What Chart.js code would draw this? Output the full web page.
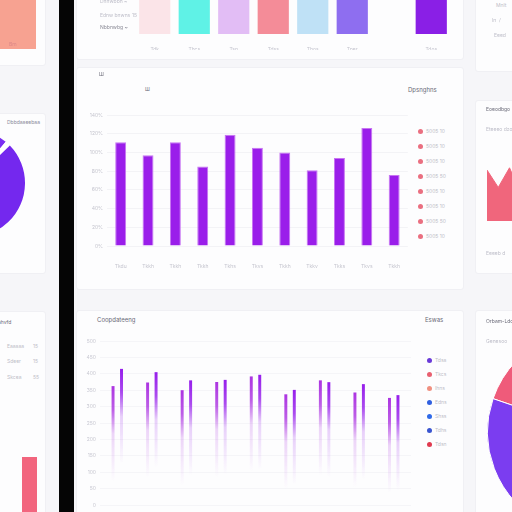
<!DOCTYPE html>
<html><head><meta charset="utf-8">
<script src="https://cdn.jsdelivr.net/npm/chart.js@4.4.1/dist/chart.umd.min.js"></script>
<style>
html,body{margin:0;padding:0;width:512px;height:512px;overflow:hidden;background:#f6f6f9;font-family:Inter,"Open Sans",sans-serif;}
#root{position:relative;width:512px;height:512px;overflow:hidden;}
.card{position:absolute;background:#fdfdfe;border:1px solid #f0f0f4;border-radius:3px;}
canvas{position:absolute;}
.t{position:absolute;white-space:nowrap;line-height:1;}
.dk{color:#6a6a78;font-size:6px;}
.lt{color:#bdbdc8;font-size:5px;}
.dot{position:absolute;width:5px;height:5px;border-radius:50%;}
</style></head><body><div id="root">
<div class="card" style="left:-6px;top:-10px;width:50px;height:74px"></div>
<div class="card" style="left:-6px;top:113px;width:50px;height:159px"></div>
<div class="card" style="left:-6px;top:311px;width:50px;height:220px"></div>
<div class="card" style="left:76px;top:-10px;width:386px;height:68px"></div>
<div class="card" style="left:76px;top:67px;width:386px;height:221px"></div>
<div class="card" style="left:76px;top:310px;width:386px;height:220px"></div>
<div class="card" style="left:475px;top:-10px;width:50px;height:80px"></div>
<div class="card" style="left:475px;top:100px;width:50px;height:172px"></div>
<div class="card" style="left:475px;top:310px;width:50px;height:220px"></div>
<div style="position:absolute;left:59px;top:0;width:15px;height:512px;background:#050505"></div>

<canvas id="cTop" width="330" height="50" style="left:125px;top:0"></canvas>
<canvas id="cSalmon" width="36" height="49" style="left:0;top:0"></canvas>
<canvas id="cPieL" width="108" height="108" style="left:-83px;top:129px"></canvas>
<canvas id="cRedL" width="15" height="72" style="left:22px;top:440px"></canvas>
<canvas id="cMain" width="319" height="165" style="left:90px;top:105px"></canvas>
<canvas id="cLow" width="328" height="182" style="left:83px;top:330px"></canvas>
<canvas id="cM" width="45" height="56" style="left:487px;top:165px"></canvas>
<canvas id="cPieR" width="206" height="206" style="left:487px;top:329px"></canvas>

<div class="t lt" style="left:100px;top:-1px">Dnnwbbn ~</div>
<div class="t lt" style="left:100px;top:13px">Ednw bnwns</div>
<div class="t lt" style="left:132px;top:13px">15</div>
<div class="t lt" style="left:100px;top:25px;color:#8a8a96">Nbbnwbg ~</div>
<div class="t lt" style="left:9px;top:42px;color:#d88">Bm</div>
<div class="t lt" style="left:7px;top:120px;color:#8a8a9a">Dbbdaaeebaa</div>
<div class="t lt" style="left:-2px;top:320px;color:#6a6a78">ahvfd</div>
<div class="t lt" style="left:7px;top:344px">Eaaaaa</div><div class="t lt" style="left:33px;top:344px">15</div>
<div class="t lt" style="left:7px;top:359px">Sdeer</div><div class="t lt" style="left:33px;top:359px">15</div>
<div class="t lt" style="left:7px;top:375px">Skcea</div><div class="t lt" style="left:33px;top:375px">55</div>
<div class="t dk" style="left:99px;top:72px;font-size:5px">Ш</div>
<div class="t dk" style="left:145px;top:87px;font-size:5px">Ш</div>
<div class="t dk" style="left:408px;top:87px">Dpsnghns</div>
<div class="t dk" style="left:97px;top:317px">Coopdateeng</div>
<div class="t dk" style="left:425px;top:317px">Eswas</div>
<div class="t lt" style="left:496px;top:3px">Mnlt</div>
<div class="t lt" style="left:492px;top:18px">In&nbsp;&nbsp;/</div>
<div class="t lt" style="left:494px;top:33px">Eeed</div>
<div class="t dk" style="left:486px;top:107px;font-size:5px">Eoeodbgo</div>
<div class="t lt" style="left:486px;top:127px">Eteeeo dzo</div>
<div class="t lt" style="left:486px;top:251px">Eeeeb d</div>
<div class="t dk" style="left:486px;top:319px;font-size:5px">Orbam-Ldcco</div>
<div class="t lt" style="left:486px;top:339px">Genesoo</div>
<div id="legMain"></div><div id="legLow"></div>

<script>
// ---- data ----
const topLabels = ['Tdk','Thcs','Tsp','Tdss','Thos','Tper','','Tdos'];
const topValues = [10,10,10,10,10,10,null,10];
const topColors = ['#fbe4e8','#5ff2e6','#e2bdf5','#f48c98','#bfe1f6','#8e6ef0','#ffffff','#8a1fe6'];

const mainLabels = ['Tkdu','Tkkh','Tkkh','Tkkh','Tkhs','Tkvs','Tkkh','Tkkv','Tkks','Tkvs','Tkkh'];
const mainValues = [111,97,111,85,119,105,100,81,94,126,76];
const mainLegend = ['5005 10','5005 10','5005 10','5005 50','5005 10','5005 10','5005 50','5005 10'];

const lowLabels = ['A','B','C','D','E','F','G','H','I'];
const lowSeriesA = [72.5,74.7,70,75,78.4,67.5,76,68.6,65.3];
const lowSeriesB = [83,81,76,76.3,79.4,70.2,74.9,73.7,67];
const lowLegend = ['Tdsa','Tkcs','Ihns','Edns','Shss','Tdhs','Tdsn'];
const lowLegendColors = ['#6a3ad8','#e86070','#f09080','#3060e0','#2f6ae8','#3a55d0','#e03a50'];

const salmonValue = [10];
const pieLeftValues = [40,6,314];
const redBarValue = [76];
const mShapeValues = [91,60,95,50,80];
const pieRightValues = [100,260];

// ---- setup ----
Chart.defaults.font.family = 'Inter, "Open Sans", sans-serif';
Chart.defaults.animation = false;
Chart.defaults.plugins.legend.display = false;
Chart.defaults.plugins.tooltip.enabled = false;
const base = {responsive:false, devicePixelRatio:1, animation:false};

new Chart(document.getElementById('cTop'), {
  type:'bar',
  data:{labels:topLabels, datasets:[{data:topValues, backgroundColor:topColors, barPercentage:0.79, categoryPercentage:1}]},
  options:{...base, layout:{padding:{left:10,right:4,top:0,bottom:0}},
    scales:{y:{display:false,min:0,max:10},
      x:{grid:{display:false},border:{display:false},ticks:{font:{size:5},color:'#c4c4ce',padding:4,maxRotation:0},afterFit:s=>{s.height=16;}}}}
});

new Chart(document.getElementById('cSalmon'), {
  type:'bar',
  data:{labels:[''], datasets:[{data:salmonValue, backgroundColor:'#f7a291', barPercentage:1, categoryPercentage:1}]},
  options:{...base, scales:{x:{display:false},y:{display:false,min:0,max:10}}}
});

new Chart(document.getElementById('cPieL'), {
  type:'pie',
  data:{labels:['a','b','c'], datasets:[{data:pieLeftValues, backgroundColor:['#7b2ef2','#ffffff','#7428ee'], borderWidth:0}]},
  options:{...base}
});

new Chart(document.getElementById('cRedL'), {
  type:'bar',
  data:{labels:[''], datasets:[{data:redBarValue, backgroundColor:'#f2657e', barPercentage:1, categoryPercentage:1}]},
  options:{...base, scales:{x:{display:false},y:{display:false,min:0,max:100}}}
});

new Chart(document.getElementById('cMain'), {
  type:'bar',
  data:{labels:mainLabels, datasets:[{data:mainValues, backgroundColor:'#9a1eea', borderColor:'#c774f2', borderWidth:1, barPercentage:0.4, categoryPercentage:1}]},
  options:{...base, layout:{padding:{top:10,left:0,right:0,bottom:0}},
    scales:{
      y:{min:0,max:140,ticks:{stepSize:20,font:{size:5},color:'#c4c4ce',padding:4,callback:v=>v+'%'},grid:{color:'#f3f3f6',drawTicks:false},border:{display:false},afterFit:s=>{s.width=17;}},
      x:{grid:{display:false},border:{display:false},ticks:{font:{size:5},color:'#c4c4ce',padding:9,maxRotation:0},afterFit:s=>{s.height=24;}}
    }}
});

function fadeFill(ctx, rgb){
  const chart = ctx.chart;
  if(!chart.chartArea || ctx.raw==null) return 'rgba('+rgb+',1)';
  const y = chart.scales.y.getPixelForValue(ctx.raw);
  const g = chart.ctx.createLinearGradient(0,y,0,y+95);
  g.addColorStop(0,'rgba('+rgb+',1)');
  g.addColorStop(0.25,'rgba('+rgb+',0.8)');
  g.addColorStop(0.5,'rgba('+rgb+',0.2)');
  g.addColorStop(1,'rgba('+rgb+',0)');
  return g;
}
new Chart(document.getElementById('cLow'), {
  type:'bar',
  data:{labels:lowLabels, datasets:[
    {data:lowSeriesA, backgroundColor:c=>fadeFill(c,'172,52,225'), barPercentage:0.35, categoryPercentage:0.49},
    {data:lowSeriesB, backgroundColor:c=>fadeFill(c,'150,30,235'), barPercentage:0.35, categoryPercentage:0.49}
  ]},
  options:{...base, layout:{padding:{top:11,left:0,right:0,bottom:1}},
    scales:{
      y:{min:0,max:100,ticks:{stepSize:10,font:{size:5},color:'#c8c8d2',padding:4,callback:v=>v*5},grid:{color:'#f5f5f8',drawTicks:false},border:{display:false},afterFit:s=>{s.width=17;}},
      x:{display:false}
    }}
});

new Chart(document.getElementById('cM'), {
  type:'line',
  data:{labels:['1','2','3','4','5'], datasets:[{data:mShapeValues, fill:'origin', backgroundColor:'#f0667c', borderColor:'#f0667c', borderWidth:1, pointRadius:0, tension:0}]},
  options:{...base, scales:{x:{display:false},y:{display:false,min:0,max:100}}}
});

new Chart(document.getElementById('cPieR'), {
  type:'pie',
  data:{labels:['r','p'], datasets:[{data:pieRightValues, backgroundColor:['#ef5b7a','#7b3df0'], borderColor:'#ffffff', borderWidth:1}]},
  options:{...base, rotation:289}
});

// legends (HTML)
const lm = document.getElementById('legMain');
mainLegend.forEach((t,i)=>{
  const y = 129 + i*15;
  lm.insertAdjacentHTML('beforeend','<div class="dot" style="left:418px;top:'+y+'px;background:#ea6f80"></div><div class="t lt" style="left:426px;top:'+y+'px">'+t+'</div>');
});
const ll = document.getElementById('legLow');
lowLegend.forEach((t,i)=>{
  const y = 358 + i*14;
  ll.insertAdjacentHTML('beforeend','<div class="dot" style="left:427px;top:'+y+'px;background:'+lowLegendColors[i]+'"></div><div class="t lt" style="left:435px;top:'+y+'px">'+t+'</div>');
});
</script>
</div></body></html>
